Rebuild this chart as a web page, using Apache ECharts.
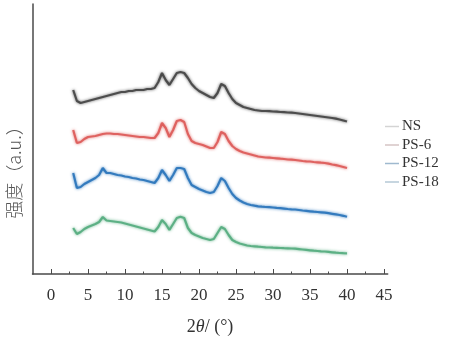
<!DOCTYPE html>
<html><head><meta charset="utf-8">
<script src="https://cdn.jsdelivr.net/npm/echarts@6/dist/echarts.min.js"></script>
<style>html,body{margin:0;padding:0;background:#fff}#c{width:465px;height:344px}</style>
</head><body><div id="c"></div>
<script>
const twoTheta = [3,3.5,4,4.5,5,5.5,6,6.5,7,7.5,8,8.5,9,9.5,10,10.5,11,11.5,12,12.5,13,13.5,14,14.5,15,15.5,16,16.5,17,17.5,18,18.5,19,19.5,20,20.5,21,21.5,22,22.5,23,23.5,24,24.5,25,25.5,26,26.5,27,27.5,28,28.5,29,29.5,30,30.5,31,31.5,32,32.5,33,33.5,34,34.5,35,35.5,36,36.5,37,37.5,38,38.5,39,39.5,40];
const seriesNames = ['NS','PS-6','PS-12','PS-18'];
const NS = [184,173,171,172,173,174,175,176,177,178,179,180,181,182,182,183,183,184,184,184,185,185,186,192,201,194,189,195,201,202,201,196,190,186,183,181,179,177,176,181,190,188,181,175,171,169,167,166,165,164,163.5,163,163,162.8,162.5,162.3,162,161.8,161.5,161.3,161,160.5,160,159.5,159,158.5,158,157.5,157,156.5,156,155.3,154.5,153.5,152.5];
const PS6 = [144,131,132,135,137,137.5,138,139,140,140.5,140.5,140,140,139.5,139,138.5,138,137.5,137,137,136.5,136,136,141,151,146,137,144,153,154,152,140,133,131,130,129,127.5,126,126,132,142,140,133,128,125,123,121.5,120.5,119.5,118.5,117.5,117,116.5,116.3,116,115.7,115.3,115,114.5,114.3,114,113.5,113,112.7,112.5,112,111.7,111.3,111,110.3,109.5,108.8,108,107,106];
const PS12 = [101,86,87,90,92,94,96,99,106,101,101,100,99,98.5,97.5,97,96,95.5,94.5,94,93,92,91,96,104,99,93,99,106,106,105,96,89,87,85,83.5,82,81,82,88,96,93,86,80,76,73.5,71.5,70,69,68.3,67.7,67.3,67,66.8,66.5,66.1,65.8,65.4,65,64.7,64.5,64,63.5,63.1,62.7,62.3,62,61.7,61.3,60.8,60.2,59.6,59,58.2,57.3];
const PS18 = [46,40,42,45,47,48.5,50,52,57,53.5,53,52.5,52,51.5,50.5,49.5,48.5,47.5,46.5,45.5,44.5,43.5,42.5,47,54,50,44,50,56,57.3,56,46,41,39,37.5,36,35,34,35,41,47,45,39,34,32,30.5,29.5,28.5,28,27.7,27.3,27,26.7,26.5,26.3,26.2,26,25.8,25.7,25.5,25.3,24.9,24.5,24.1,23.7,23.3,23,22.7,22.5,22.1,21.7,21.3,21,20.8,20.7];
const majorTicks = [0,5,10,15,20,25,30,35,40,45];
const minorTicks = [2.5,7.5,12.5,17.5,22.5,27.5,32.5,37.5,42.5];

const lineColors = ['#3d3d3d','#dc5552','#2270b8','#4fa97a'];
const legendColors = ['#d4d4d4','#d6c4c4','#9fb9cf','#b4c9d6'];
const allData = [NS, PS6, PS12, PS18];

const chart = echarts.init(document.getElementById('c'), null, {renderer:'canvas'});
const axisColor = '#4a4a4a';
chart.setOption({
  animation:false,
  grid:{left:32.5, right:77.3, top:4, bottom:70},
  legend:{
    orient:'vertical', left:380, top:114, itemGap:3.5, itemWidth:14, itemHeight:1.5,
    icon:'rect',
    textStyle:{fontFamily:'Liberation Serif', fontSize:15, color:'#333', padding:[0,0,0,-2]},
    data: seriesNames.map((n,i)=>({name:n, itemStyle:{color:legendColors[i]}}))
  },
  xAxis:[{
    type:'value', min:-2.5, max:45.5,
    axisLine:{onZero:false, lineStyle:{color:axisColor, width:1.5}},
    axisTick:{inside:true, length:5, customValues:majorTicks, lineStyle:{color:axisColor, width:1}},
    axisLabel:{customValues:majorTicks, margin:13, fontFamily:'Liberation Serif', fontSize:17, color:'#333'},
    splitLine:{show:false},
    name:'{n|2}{i|θ}{n|/ (°)}', nameLocation:'middle', nameGap:44,
    nameTextStyle:{rich:{n:{fontFamily:'Liberation Serif', fontSize:18, color:'#333'}, i:{fontFamily:'Liberation Serif', fontStyle:'italic', fontSize:18, color:'#333'}}}
  },{
    type:'value', min:-2.5, max:45.5, position:'bottom',
    axisLine:{show:false, onZero:false},
    axisTick:{inside:true, length:2.5, customValues:minorTicks, lineStyle:{color:axisColor, width:1}},
    axisLabel:{show:false}, splitLine:{show:false}
  }],
  yAxis:{
    type:'value', min:0, max:270,
    axisLine:{show:true, onZero:false, lineStyle:{color:axisColor, width:1.5}},
    axisTick:{show:false}, axisLabel:{show:false}, splitLine:{show:false}
  },
  graphic:[{
    type:'text', x:14, y:168, rotation:Math.PI/2,
    style:{text:'强度（a.u.）', fontFamily:'Noto Sans CJK SC', fontSize:18, fontWeight:300, fill:'#555', align:'center', verticalAlign:'middle'}
  }],
  series: seriesNames.map((n,i)=>({
    name:n, type:'line', xAxisIndex:0, showSymbol:false, symbol:'none',
    data: twoTheta.map((x,k)=>[x, allData[i][k]]),
    lineStyle:{color:lineColors[i], width:2.2, opacity:0.85, shadowBlur:3, shadowColor:lineColors[i]},
    itemStyle:{color:lineColors[i]}
  }))
});
</script></body></html>
